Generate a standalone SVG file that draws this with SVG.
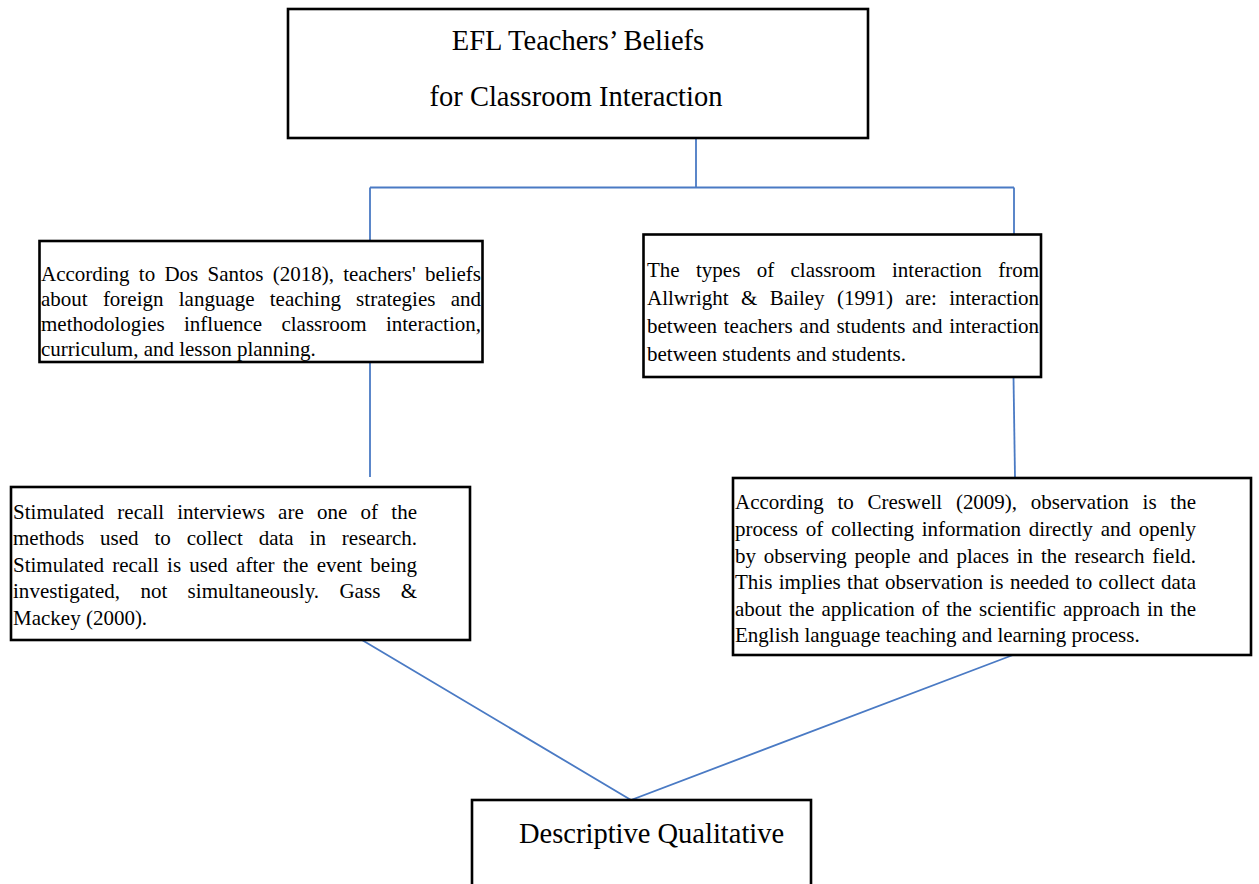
<svg xmlns="http://www.w3.org/2000/svg" width="1259" height="884" viewBox="0 0 1259 884">
<style>
.box{fill:#fff;stroke:#000;stroke-width:2.6}
.conn{fill:none;stroke:#4a7ac4;stroke-width:1.8}
.t{font-family:"Liberation Serif","Times New Roman",serif;font-size:21px;fill:#000}
.big{font-family:"Liberation Serif","Times New Roman",serif;font-size:28.5px;fill:#000}
</style>
<rect width="1259" height="884" fill="#fff"/>
<g id="connectors">
<path class="conn" d="M696,138 V187.5 M370,187.5 H1014 M370,187.5 V241 M1014,187.5 V235"/>
<path class="conn" d="M370,362 V477"/>
<path class="conn" d="M1013.5,377 L1015,478"/>
<path class="conn" d="M362,640 L631,800 L1013,655"/>
</g>
<g id="n-top">
<rect class="box" x="288" y="9" width="580" height="129"/>
<text class="big" x="578" y="50" text-anchor="middle">EFL Teachers’ Beliefs</text>
<text class="big" x="576" y="106" text-anchor="middle">for Classroom Interaction</text>
</g>
<g id="n-dossantos">
<rect class="box" x="39.5" y="241" width="443" height="121"/>
<text class="t" x="41" y="281" textLength="440" lengthAdjust="spacing" word-spacing="4">According to Dos Santos (2018), teachers' beliefs</text>
<text class="t" x="41" y="306" textLength="440" lengthAdjust="spacing" word-spacing="10">about foreign language teaching strategies and</text>
<text class="t" x="41" y="331" textLength="440" lengthAdjust="spacing" word-spacing="14">methodologies influence classroom interaction,</text>
<text class="t" x="41" y="356">curriculum, and lesson planning.</text>
</g>
<g id="n-types">
<rect class="box" x="643.5" y="234.5" width="397.5" height="142.5"/>
<text class="t" x="647" y="276.5" textLength="392" lengthAdjust="spacing" word-spacing="11.1">The types of classroom interaction from</text>
<text class="t" x="647" y="304.5" textLength="392" lengthAdjust="spacing" word-spacing="7.1">Allwright &amp; Bailey (1991) are: interaction</text>
<text class="t" x="647" y="332.5" textLength="392" lengthAdjust="spacing" word-spacing="1.5">between teachers and students and interaction</text>
<text class="t" x="647" y="360.5">between students and students.</text>
</g>
<g id="n-recall">
<rect class="box" x="11" y="487" width="459" height="153"/>
<text class="t" x="13" y="519" textLength="404" lengthAdjust="spacing" word-spacing="8">Stimulated recall interviews are one of the</text>
<text class="t" x="13" y="545" textLength="404" lengthAdjust="spacing" word-spacing="10.7">methods used to collect data in research.</text>
<text class="t" x="13" y="572" textLength="404" lengthAdjust="spacing" word-spacing="3">Stimulated recall is used after the event being</text>
<text class="t" x="13" y="598" textLength="404" lengthAdjust="spacing" word-spacing="15">investigated, not simultaneously. Gass &amp;</text>
<text class="t" x="13" y="625">Mackey (2000).</text>
</g>
<g id="n-creswell">
<rect class="box" x="733" y="478" width="518" height="177"/>
<text class="t" x="735" y="509" textLength="461" lengthAdjust="spacing" word-spacing="8.5">According to Creswell (2009), observation is the</text>
<text class="t" x="735" y="536" textLength="461" lengthAdjust="spacing" word-spacing="2.6">process of collecting information directly and openly</text>
<text class="t" x="735" y="562.5" textLength="461" lengthAdjust="spacing" word-spacing="2.6">by observing people and places in the research field.</text>
<text class="t" x="735" y="589" textLength="461" lengthAdjust="spacing" word-spacing="1.2">This implies that observation is needed to collect data</text>
<text class="t" x="735" y="615.5" textLength="461" lengthAdjust="spacing" word-spacing="1.8">about the application of the scientific approach in the</text>
<text class="t" x="735" y="642">English language teaching and learning process.</text>
</g>
<g id="n-descriptive">
<rect class="box" x="472" y="800" width="339" height="100"/>
<text class="big" x="519" y="843">Descriptive Qualitative</text>
</g>
</svg>
